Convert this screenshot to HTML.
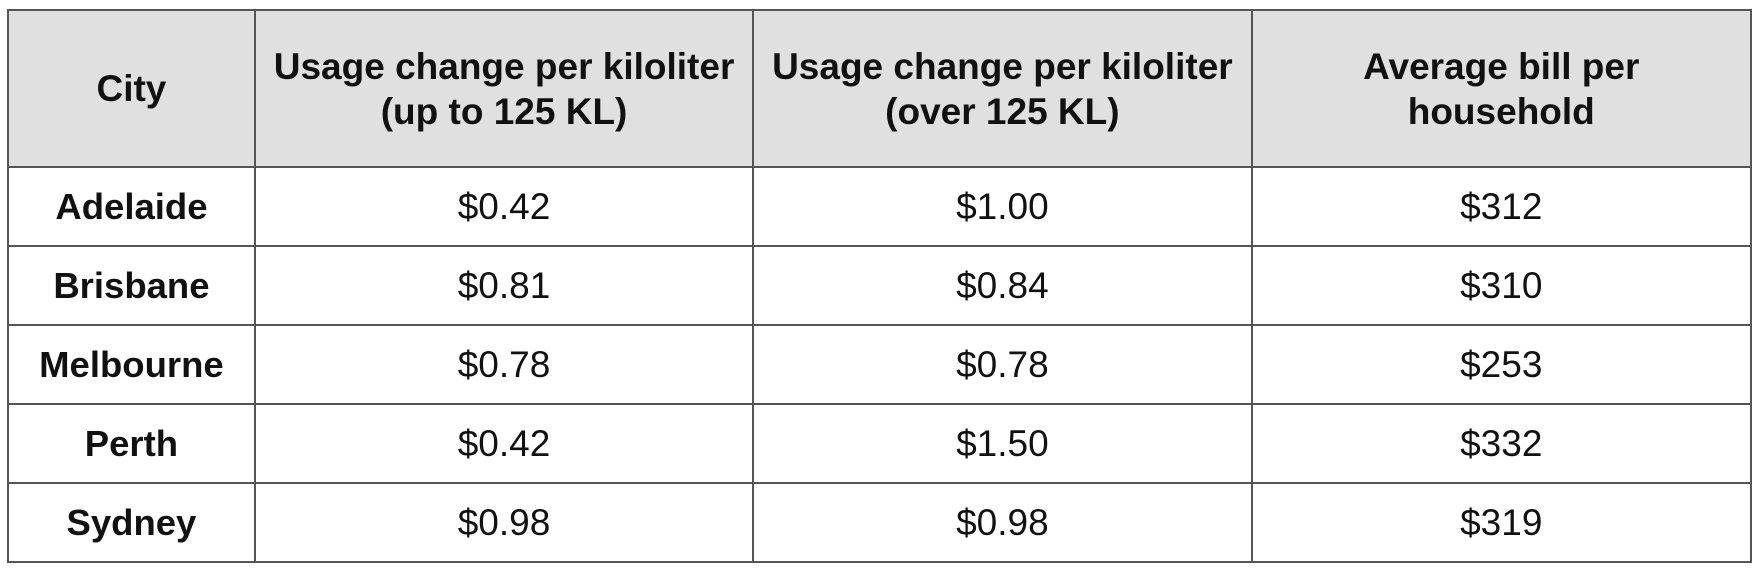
<!DOCTYPE html>
<html><head><meta charset="utf-8"><style>
html,body{margin:0;padding:0;background:#fff;width:1758px;height:574px;overflow:hidden}
table{position:absolute;left:7px;top:9px;width:1745px;border-collapse:collapse;font-family:"Liberation Sans",Arial,sans-serif;color:#111}
td,th{border:2px solid #555;text-align:center;padding:0}
th{background:#e0e0e0;height:155px;font-size:37px;font-weight:bold;line-height:45px}
td{height:77px;font-size:37px;line-height:40px}
td.c{font-weight:bold;font-size:36.5px}
</style></head><body>
<table>
<colgroup><col style="width:247px"><col style="width:499px"><col style="width:499px"><col style="width:500px"></colgroup>
<tr>
<th>City</th>
<th>Usage change per kiloliter<br>(up to 125 KL)</th>
<th>Usage change per kiloliter<br>(over 125 KL)</th>
<th>Average bill per<br>household</th>
</tr>
<tr><td class="c">Adelaide</td><td>$0.42</td><td>$1.00</td><td>$312</td></tr>
<tr><td class="c">Brisbane</td><td>$0.81</td><td>$0.84</td><td>$310</td></tr>
<tr><td class="c">Melbourne</td><td>$0.78</td><td>$0.78</td><td>$253</td></tr>
<tr><td class="c">Perth</td><td>$0.42</td><td>$1.50</td><td>$332</td></tr>
<tr><td class="c">Sydney</td><td>$0.98</td><td>$0.98</td><td>$319</td></tr>
</table>
</body></html>
